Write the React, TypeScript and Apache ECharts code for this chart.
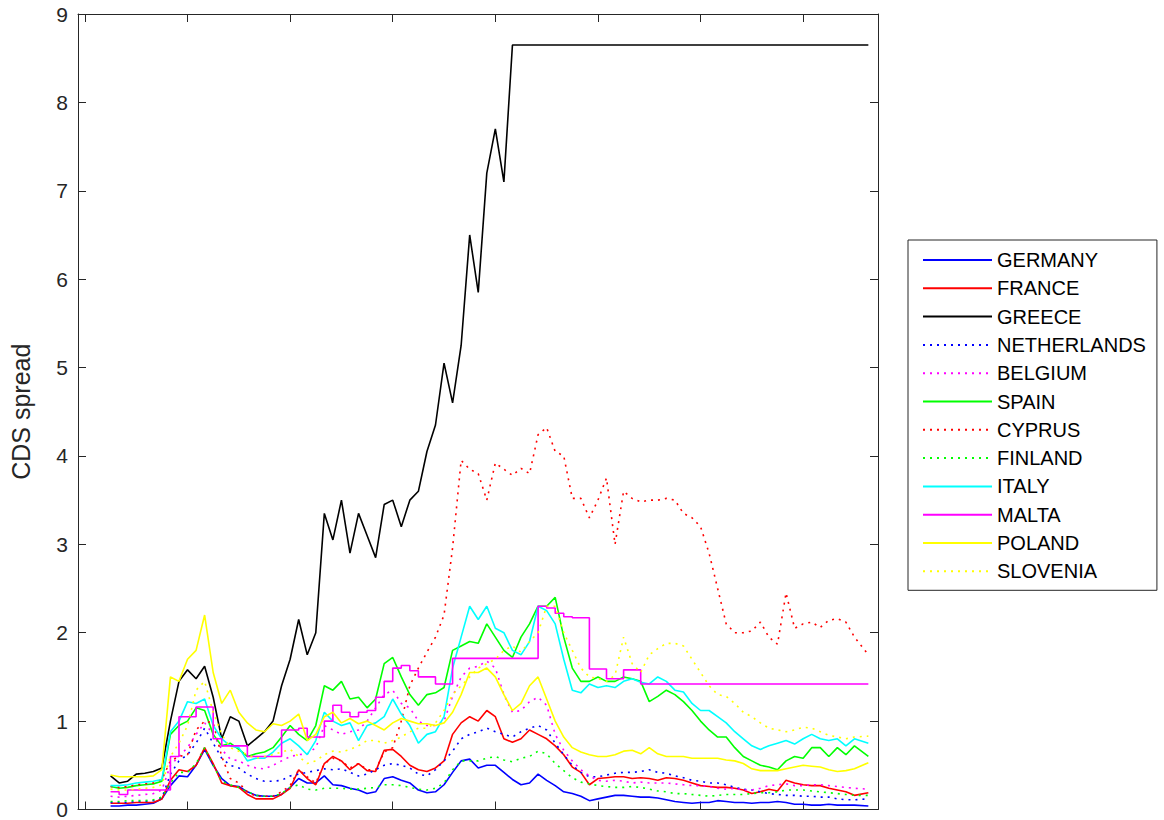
import { useEffect, useRef } from "react";
import * as echarts from "echarts";

// Monthly observation dates (last one is the final observation day)
const dates = [
  "2008-04","2008-05","2008-06","2008-07","2008-08","2008-09","2008-10","2008-11","2008-12",
  "2009-01","2009-02","2009-03","2009-04","2009-05","2009-06","2009-07","2009-08","2009-09","2009-10","2009-11","2009-12",
  "2010-01","2010-02","2010-03","2010-04","2010-05","2010-06","2010-07","2010-08","2010-09","2010-10","2010-11","2010-12",
  "2011-01","2011-02","2011-03","2011-04","2011-05","2011-06","2011-07","2011-08","2011-09","2011-10","2011-11","2011-12",
  "2012-01","2012-02","2012-03","2012-04","2012-05","2012-06","2012-07","2012-08","2012-09","2012-10","2012-11","2012-12",
  "2013-01","2013-02","2013-03","2013-04","2013-05","2013-06","2013-07","2013-08","2013-09","2013-10","2013-11","2013-12",
  "2014-01","2014-02","2014-03","2014-04","2014-05","2014-06","2014-07","2014-08","2014-09","2014-10","2014-11","2014-12",
  "2015-01","2015-02","2015-03","2015-04","2015-05","2015-06","2015-07","2015-08-20",
];

const yearTicks = [2008, 2009, 2010, 2011, 2012, 2013, 2014, 2015];
const yTicks = [0, 1, 2, 3, 4, 5, 6, 7, 8, 9];

const germany = [
  0.04,0.04,0.05,0.05,0.06,0.07,0.12,0.27,0.38,0.37,
  0.5,0.68,0.5,0.35,0.27,0.26,0.2,0.16,0.15,0.15,
  0.17,0.25,0.35,0.3,0.3,0.38,0.28,0.27,0.24,0.22,
  0.18,0.2,0.35,0.37,0.33,0.3,0.22,0.19,0.2,0.28,
  0.42,0.55,0.57,0.47,0.5,0.5,0.42,0.34,0.28,0.3,
  0.4,0.33,0.27,0.2,0.18,0.15,0.1,0.12,0.14,0.16,
  0.16,0.15,0.14,0.14,0.13,0.11,0.09,0.08,0.07,0.08,
  0.08,0.1,0.09,0.08,0.08,0.07,0.08,0.08,0.09,0.08,
  0.06,0.06,0.05,0.05,0.06,0.05,0.05,0.05,0.04,0.04,
];
const france = [
  0.07,0.07,0.07,0.08,0.08,0.08,0.12,0.33,0.45,0.43,
  0.5,0.7,0.52,0.3,0.27,0.25,0.17,0.12,0.12,0.12,
  0.17,0.24,0.45,0.35,0.28,0.52,0.6,0.55,0.45,0.52,
  0.44,0.43,0.67,0.68,0.6,0.5,0.45,0.43,0.47,0.55,
  0.85,0.98,1.05,1.0,1.12,1.05,0.8,0.76,0.8,0.9,
  0.85,0.8,0.72,0.62,0.48,0.42,0.28,0.35,0.36,0.37,
  0.37,0.35,0.36,0.35,0.33,0.36,0.35,0.33,0.3,0.27,
  0.26,0.25,0.25,0.24,0.22,0.18,0.2,0.23,0.21,0.33,
  0.3,0.28,0.27,0.27,0.24,0.22,0.2,0.16,0.19,0.18,
];
const greece = [
  0.38,0.3,0.32,0.4,0.41,0.43,0.47,1.0,1.45,1.58,
  1.48,1.62,1.27,0.8,1.05,1.0,0.72,0.8,0.88,1.0,
  1.4,1.7,2.15,1.75,2.0,3.35,3.05,3.5,2.9,3.35,
  3.1,2.85,3.45,3.5,3.2,3.5,3.6,4.05,4.35,5.05,
  4.6,5.25,6.5,5.85,7.2,7.7,7.1,8.65,8.65,8.65,
  8.65,8.65,8.65,8.65,8.65,8.65,8.65,8.65,8.65,8.65,
  8.65,8.65,8.65,8.65,8.65,8.65,8.65,8.65,8.65,8.65,
  8.65,8.65,8.65,8.65,8.65,8.65,8.65,8.65,8.65,8.65,
  8.65,8.65,8.65,8.65,8.65,8.65,8.65,8.65,8.65,8.65,
];
const netherlands = [
  0.08,0.08,0.08,0.09,0.09,0.1,0.13,0.4,0.55,0.62,
  0.75,0.92,0.75,0.58,0.5,0.47,0.4,0.35,0.32,0.32,
  0.33,0.38,0.4,0.42,0.44,0.46,0.45,0.46,0.42,0.38,
  0.4,0.45,0.5,0.52,0.5,0.47,0.4,0.38,0.45,0.55,
  0.66,0.8,0.85,0.88,0.92,0.88,0.85,0.82,0.88,0.92,
  0.95,0.9,0.75,0.62,0.5,0.42,0.37,0.37,0.39,0.41,
  0.42,0.42,0.43,0.45,0.42,0.41,0.38,0.36,0.33,0.32,
  0.3,0.3,0.28,0.25,0.23,0.22,0.2,0.18,0.17,0.16,
  0.16,0.15,0.15,0.14,0.14,0.12,0.11,0.11,0.12,0.13,
];
const belgium = [
  0.15,0.14,0.15,0.16,0.17,0.18,0.22,0.5,0.6,0.7,
  0.85,0.98,0.85,0.68,0.57,0.55,0.5,0.47,0.46,0.5,
  0.55,0.6,0.62,0.63,0.7,0.95,0.9,0.85,0.88,0.9,
  1.0,1.15,1.3,1.35,1.2,1.15,1.0,0.95,0.95,1.0,
  1.28,1.5,1.6,1.62,1.68,1.6,1.3,1.1,1.12,1.22,
  1.27,1.18,0.85,0.67,0.55,0.45,0.38,0.33,0.32,0.33,
  0.32,0.3,0.31,0.3,0.3,0.3,0.29,0.28,0.27,0.27,
  0.26,0.24,0.23,0.24,0.22,0.22,0.24,0.27,0.28,0.29,
  0.27,0.27,0.28,0.28,0.27,0.26,0.25,0.24,0.23,0.23,
];
const spain = [
  0.26,0.24,0.25,0.27,0.28,0.29,0.32,0.85,0.95,1.0,
  1.15,1.12,0.85,0.72,0.75,0.68,0.6,0.63,0.65,0.7,
  0.82,0.95,0.85,0.78,0.95,1.4,1.35,1.45,1.25,1.27,
  1.15,1.25,1.65,1.72,1.5,1.3,1.18,1.3,1.32,1.38,
  1.8,1.85,1.9,1.88,2.1,1.95,1.8,1.72,1.95,2.1,
  2.3,2.3,2.4,1.95,1.6,1.45,1.45,1.5,1.45,1.45,
  1.5,1.48,1.45,1.22,1.28,1.35,1.3,1.22,1.12,1.0,
  0.9,0.82,0.82,0.7,0.6,0.55,0.5,0.48,0.45,0.55,
  0.6,0.58,0.7,0.7,0.6,0.7,0.62,0.72,0.6,0.7,
];
const cyprus = [
  0.26,0.25,0.26,0.28,0.29,0.3,0.34,0.55,0.6,0.62,
  0.9,1.0,0.98,0.6,0.35,0.3,0.2,0.15,0.15,0.15,
  0.2,0.27,0.45,0.37,0.3,0.52,0.58,0.55,0.47,0.52,
  0.45,0.45,0.65,0.7,1.0,1.4,1.6,1.78,1.95,2.2,
  2.96,3.95,3.85,3.8,3.5,3.92,3.85,3.78,3.86,3.8,
  4.24,4.32,4.05,4.0,3.52,3.52,3.3,3.5,3.75,3.0,
  3.6,3.52,3.48,3.5,3.5,3.52,3.5,3.35,3.3,3.2,
  2.9,2.5,2.1,2.0,2.0,2.02,2.12,1.95,1.87,2.45,
  2.05,2.1,2.12,2.06,2.14,2.16,2.12,1.95,1.75,1.76,
];
const finland = [
  0.09,0.09,0.1,0.1,0.1,0.11,0.14,0.3,0.42,0.42,
  0.52,0.7,0.5,0.32,0.28,0.25,0.2,0.16,0.15,0.15,
  0.18,0.25,0.28,0.23,0.22,0.24,0.24,0.24,0.23,0.23,
  0.24,0.25,0.28,0.28,0.27,0.25,0.23,0.22,0.24,0.3,
  0.45,0.55,0.55,0.55,0.58,0.6,0.56,0.54,0.58,0.6,
  0.66,0.63,0.52,0.44,0.36,0.31,0.29,0.27,0.26,0.25,
  0.25,0.26,0.25,0.23,0.21,0.2,0.18,0.18,0.17,0.16,
  0.15,0.16,0.17,0.17,0.17,0.18,0.19,0.19,0.2,0.22,
  0.22,0.22,0.21,0.2,0.19,0.18,0.17,0.16,0.16,0.16,
];
const italy = [
  0.27,0.27,0.28,0.3,0.31,0.32,0.34,0.88,1.0,1.22,
  1.2,1.25,0.95,0.8,0.72,0.7,0.55,0.58,0.58,0.65,
  0.75,0.8,0.72,0.62,0.78,1.1,1.0,0.95,0.98,0.78,
  0.95,0.98,1.05,1.25,1.08,0.95,0.75,0.85,0.88,1.05,
  1.6,1.95,2.3,2.15,2.3,2.05,2.0,1.8,1.75,1.9,
  2.3,2.25,2.1,1.7,1.35,1.32,1.42,1.38,1.4,1.38,
  1.45,1.48,1.44,1.42,1.5,1.45,1.35,1.33,1.2,1.12,
  1.12,1.05,0.98,0.88,0.8,0.72,0.68,0.72,0.75,0.78,
  0.74,0.8,0.85,0.8,0.78,0.8,0.72,0.8,0.75,0.8,
];
const malta = [
  0.2,0.17,0.22,0.22,0.22,0.22,0.22,0.6,1.05,1.05,
  1.16,1.16,0.8,0.72,0.72,0.72,0.6,0.6,0.6,0.6,
  0.9,0.9,0.92,0.82,0.82,1.0,1.18,1.1,1.05,1.1,
  1.12,1.27,1.45,1.6,1.63,1.57,1.5,1.5,1.42,1.42,
  1.71,1.71,1.71,1.71,1.71,1.71,1.71,1.71,1.71,1.71,
  2.3,2.28,2.22,2.18,2.17,2.17,1.59,1.59,1.48,1.48,
  1.58,1.58,1.42,1.42,1.42,1.42,1.42,1.42,1.42,1.42,
  1.42,1.42,1.42,1.42,1.42,1.42,1.42,1.42,1.42,1.42,
  1.42,1.42,1.42,1.42,1.42,1.42,1.42,1.42,1.42,1.42,
];
const poland = [
  0.39,0.37,0.37,0.37,0.37,0.38,0.45,1.5,1.45,1.7,
  1.8,2.2,1.55,1.2,1.35,1.1,0.98,0.9,0.88,0.97,
  0.95,1.0,1.08,0.78,0.85,1.05,1.1,0.98,1.03,0.97,
  1.0,0.95,0.9,0.98,1.03,1.0,0.97,0.97,0.95,0.98,
  1.1,1.3,1.55,1.55,1.6,1.5,1.3,1.12,1.2,1.4,
  1.5,1.25,1.0,0.82,0.7,0.65,0.62,0.6,0.6,0.62,
  0.66,0.67,0.63,0.7,0.63,0.6,0.6,0.6,0.58,0.58,
  0.58,0.58,0.56,0.55,0.52,0.46,0.44,0.44,0.44,0.46,
  0.48,0.5,0.49,0.48,0.45,0.43,0.44,0.46,0.53,0.51,
];
const slovenia = [
  0.23,0.22,0.22,0.23,0.24,0.25,0.28,0.6,0.75,0.95,
  1.35,1.45,1.1,0.85,0.7,0.66,0.62,0.58,0.6,0.62,
  0.65,0.68,0.6,0.52,0.55,0.62,0.66,0.65,0.68,0.72,
  0.78,0.78,0.75,0.78,0.82,0.88,0.92,0.92,0.98,1.12,
  1.3,1.4,1.5,1.6,1.65,1.7,1.8,1.85,1.78,1.9,
  2.0,2.3,2.3,2.0,1.8,1.6,1.5,1.48,1.45,1.52,
  1.95,1.65,1.55,1.75,1.82,1.88,1.88,1.85,1.7,1.55,
  1.4,1.3,1.28,1.2,1.1,1.05,0.98,0.92,0.9,0.88,
  0.9,0.93,0.92,0.88,0.84,0.82,0.8,0.82,0.83,0.82,
];

const seriesDefs = [
  { name: "GERMANY", data: germany, color: "#0000ff", dotted: false },
  { name: "FRANCE", data: france, color: "#ff0000", dotted: false },
  { name: "GREECE", data: greece, color: "#000000", dotted: false },
  { name: "NETHERLANDS", data: netherlands, color: "#0000ff", dotted: true },
  { name: "BELGIUM", data: belgium, color: "#ff00ff", dotted: true },
  { name: "SPAIN", data: spain, color: "#00ff00", dotted: false },
  { name: "CYPRUS", data: cyprus, color: "#ff0000", dotted: true },
  { name: "FINLAND", data: finland, color: "#00ff00", dotted: true },
  { name: "ITALY", data: italy, color: "#00ffff", dotted: false },
  { name: "MALTA", data: malta, color: "#ff00ff", dotted: false, step: true },
  { name: "POLAND", data: poland, color: "#ffff00", dotted: false },
  { name: "SLOVENIA", data: slovenia, color: "#ffff00", dotted: true },
];

const FONT = "'Liberation Sans', Arial, Helvetica, sans-serif";
const AXIS_COLOR = "#262626";

function toYear(s: string): number {
  const parts = s.split("-").map(Number);
  const y = parts[0];
  const m = parts[1] || 1;
  const d = parts[2] || 1;
  return y + (m - 1) / 12 + (d - 1) / 365;
}

export default function App() {
  const ref = useRef<HTMLDivElement>(null);
  useEffect(() => {
    if (!ref.current) return;
    const chart = echarts.init(ref.current, undefined, { renderer: "svg" });
    const xs = dates.map(toYear);
    const xMin = 2007.9325;
    const xMax = 2015.7295;
    const xAxisCommon = {
      type: "value" as const,
      min: xMin,
      max: xMax,
      axisLine: { show: true, onZero: false, lineStyle: { color: AXIS_COLOR, width: 1 } },
      axisTick: { show: true, inside: true, length: 8, customValues: yearTicks, lineStyle: { color: AXIS_COLOR } },
      axisLabel: { show: false, customValues: yearTicks },
      splitLine: { show: false },
    };
    const yAxisCommon = {
      type: "value" as const,
      min: 0,
      max: 9,
      interval: 1,
      axisLine: { show: true, lineStyle: { color: AXIS_COLOR, width: 1 } },
      axisTick: { show: true, inside: true, length: 8, customValues: yTicks, lineStyle: { color: AXIS_COLOR } },
      splitLine: { show: false },
    };
    chart.setOption({
      animation: false,
      backgroundColor: "#ffffff",
      grid: { left: 70, right: 286, top: 14, bottom: 7, containLabel: false },
      legend: {
        data: seriesDefs.map((s) => s.name),
        orient: "vertical",
        left: 908,
        top: 240,
        padding: [10, 11, 9, 14],
        itemWidth: 69,
        itemHeight: 14,
        itemGap: 8.3,
        borderColor: AXIS_COLOR,
        borderWidth: 1,
        backgroundColor: "#ffffff",
        selectedMode: false,
        itemStyle: { color: "rgba(0,0,0,0)", borderWidth: 0, opacity: 0 },
        textStyle: { fontSize: 20, color: "#000000", fontFamily: FONT, lineHeight: 20 },
      },
      xAxis: [
        { ...xAxisCommon, position: "bottom" },
        { ...xAxisCommon, position: "top" },
      ],
      yAxis: [
        {
          ...yAxisCommon,
          position: "left",
          name: "CDS spread",
          nameLocation: "middle",
          nameGap: 45,
          nameRotate: 90,
          nameTextStyle: { fontSize: 25, color: AXIS_COLOR, fontFamily: FONT },
          axisLabel: { show: true, fontSize: 21, color: AXIS_COLOR, fontFamily: FONT, margin: 10 },
        },
        { ...yAxisCommon, position: "right", axisLabel: { show: false } },
      ],
      series: seriesDefs.map((s) => ({
        name: s.name,
        type: "line",
        xAxisIndex: 0,
        yAxisIndex: 0,
        data: s.data.map((v, i) => [xs[i], v]),
        symbol: "none",
        showSymbol: false,
        step: s.step ? "end" : false,
        lineStyle: { color: s.color, width: 1.6, type: s.dotted ? [2, 5] : "solid" },
        itemStyle: { color: s.color },
        emphasis: { disabled: true },
      })),
    });
    return () => chart.dispose();
  }, []);
  return (
    <div
      ref={ref}
      style={{ position: "absolute", left: 0, top: 0, width: 1164, height: 820 }}
    />
  );
}
